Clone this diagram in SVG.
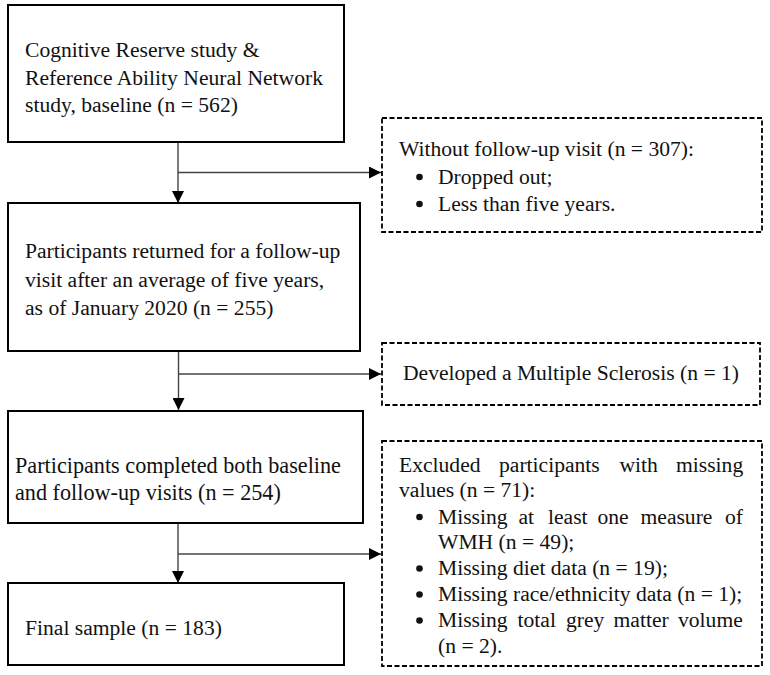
<svg xmlns="http://www.w3.org/2000/svg" width="770" height="675" viewBox="0 0 770 675">
<style>
.box{fill:#fff;stroke:#000;stroke-width:2}
.dbox{fill:#fff;stroke:#000;stroke-width:1.8;stroke-dasharray:5,2.5}
.t{font-family:"Liberation Serif","Times New Roman",serif;font-size:21.6px;fill:#111}
.c{stroke:#444;stroke-width:1.4;fill:none}
.b{fill:#111}
</style>
<defs>
<marker id="ah" viewBox="0 0 12 12" refX="12" refY="6" markerWidth="12" markerHeight="12" markerUnits="userSpaceOnUse" orient="auto">
<path d="M0,0 L12,6 L0,12 Z" fill="#000"/>
</marker>
</defs>
<rect width="770" height="675" fill="#fff"/>
<g id="connectors">
<line class="c" x1="178" y1="142" x2="178" y2="203" marker-end="url(#ah)"/>
<line class="c" x1="178" y1="172.5" x2="381" y2="172.5" marker-end="url(#ah)"/>
<line class="c" x1="178.5" y1="351" x2="178.5" y2="410" marker-end="url(#ah)"/>
<line class="c" x1="178.5" y1="374" x2="381" y2="374" marker-end="url(#ah)"/>
<line class="c" x1="178" y1="523" x2="178" y2="583" marker-end="url(#ah)"/>
<line class="c" x1="178" y1="554" x2="381" y2="554" marker-end="url(#ah)"/>
</g>
<g id="n1">
<rect class="box" x="8" y="5" width="336" height="137"/>
<text class="t" x="25" y="57">Cognitive Reserve study &amp;</text>
<text class="t" x="25" y="84.5">Reference Ability Neural Network</text>
<text class="t" x="25" y="112">study, baseline (n = 562)</text>
</g>
<g id="n2">
<rect class="dbox" x="382" y="118" width="380" height="114"/>
<text class="t" x="399" y="156">Without follow-up visit (n = 307):</text>
<circle class="b" cx="419.5" cy="177" r="3.3"/>
<text class="t" x="438" y="183.5">Dropped out;</text>
<circle class="b" cx="419.5" cy="204" r="3.3"/>
<text class="t" x="438" y="210.5">Less than five years.</text>
</g>
<g id="n3">
<rect class="box" x="8" y="203" width="352" height="148"/>
<text class="t" x="25" y="258">Participants returned for a follow-up</text>
<text class="t" x="25" y="286.5">visit after an average of five years,</text>
<text class="t" x="25" y="315">as of January 2020 (n = 255)</text>
</g>
<g id="n4">
<rect class="dbox" x="382" y="343" width="378" height="62"/>
<text class="t" x="571" y="380" text-anchor="middle">Developed a Multiple Sclerosis (n = 1)</text>
</g>
<g id="n5">
<rect class="box" x="8" y="411" width="355" height="112"/>
<text class="t" x="15" y="473" style="font-size:22.2px">Participants completed both baseline</text>
<text class="t" x="15" y="500" style="font-size:22.2px">and follow-up visits (n = 254)</text>
</g>
<g id="n6">
<rect class="dbox" x="382" y="441" width="380" height="225"/>
<text class="t" y="472"><tspan x="399">Excluded</tspan><tspan x="499">participants</tspan><tspan x="619.5">with</tspan><tspan x="676">missing</tspan></text>
<text class="t" x="399" y="497">values (n = 71):</text>
<circle class="b" cx="419.5" cy="517" r="3.3"/>
<text class="t" y="523.5"><tspan x="438">Missing</tspan><tspan x="518.5">at</tspan><tspan x="548">least</tspan><tspan x="597.5">one</tspan><tspan x="640.5">measure</tspan><tspan x="725">of</tspan></text>
<text class="t" x="438" y="548.5">WMH (n = 49);</text>
<circle class="b" cx="419.5" cy="568.5" r="3.3"/>
<text class="t" x="438" y="575">Missing diet data (n = 19);</text>
<circle class="b" cx="419.5" cy="594.5" r="3.3"/>
<text class="t" x="438" y="601">Missing race/ethnicity data (n = 1);</text>
<circle class="b" cx="419.5" cy="620.5" r="3.3"/>
<text class="t" y="627"><tspan x="438">Missing</tspan><tspan x="517.5">total</tspan><tspan x="566">grey</tspan><tspan x="613.5">matter</tspan><tspan x="678">volume</tspan></text>
<text class="t" x="438" y="653">(n = 2).</text>
</g>
<g id="n7">
<rect class="box" x="8" y="583" width="336" height="82"/>
<text class="t" x="25" y="635">Final sample (n = 183)</text>
</g>
</svg>
